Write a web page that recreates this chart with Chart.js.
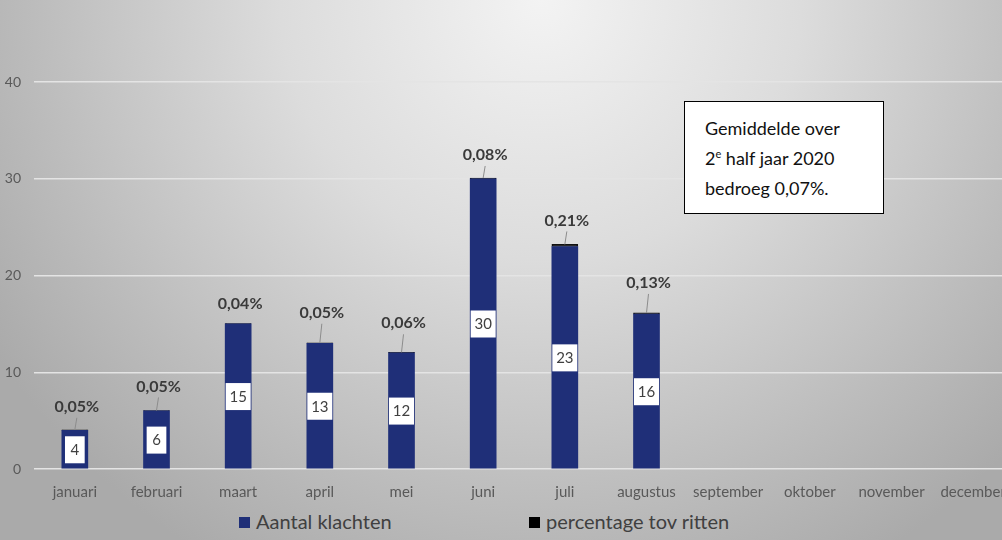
<!DOCTYPE html>
<html>
<head>
<meta charset="utf-8">
<script src="https://cdn.jsdelivr.net/npm/chart.js@4.4.1/dist/chart.umd.min.js"></script>
<style>
  html, body { margin: 0; padding: 0; overflow: hidden; }
  body {
    width: 1002px; height: 540px; position: relative;
    background: radial-gradient(ellipse 65% 120% at 54% 0%, #f3f3f3 0%, #dcdcdc 40%, #bcbcbc 78%, #aaaaaa 100%);
    font-family: Lato, "Open Sans", sans-serif;
  }
  #wrap { position: absolute; left: 0; top: 0; width: 1014px; height: 507px; }
  #note {
    position: absolute; left: 684px; top: 101px; width: 200px; height: 113px;
    box-sizing: border-box; background: #fff; border: 1px solid #000;
    padding: 11px 0 0 20px; font-size: 18px; line-height: 30px; color: #111;
  }
  #note sup { font-size: 11px; line-height: 0; vertical-align: 7px; }
  #legend { position: absolute; top: 509px; left: 0; width: 1002px; font-size: 20px; color: #404040; }
  #legend span.item { position: absolute; white-space: nowrap; }
  #legend i { display: inline-block; width: 11px; height: 11px; margin-right: 6px; vertical-align: 1px; }
</style>
</head>
<body>
<div id="wrap"><canvas id="myChart" width="1014" height="507"></canvas></div>
<div id="note">Gemiddelde over<br>2<sup>e</sup> half jaar 2020<br>bedroeg 0,07%.</div>
<div id="legend">
  <span class="item" style="left:239px"><i style="background:#1f2f78"></i>Aantal klachten</span>
  <span class="item" style="left:529px"><i style="background:#000"></i>percentage tov ritten</span>
</div>
<script>
var months = ['januari', 'februari', 'maart', 'april', 'mei', 'juni', 'juli', 'augustus', 'september', 'oktober', 'november', 'december'];
var klachten = [4, 6, 15, 13, 12, 30, 23, 16];
var percentage = [0.05, 0.05, 0.04, 0.05, 0.06, 0.08, 0.21, 0.13];
var yTicks = [0, 10, 20, 30, 40];
// distance (px) of the percentage label above the bar top
var labelLift = [23, 24, 20, 30, 29, 23, 24, 30];

var labelsPlugin = {
    id: 'barLabels',
    afterDatasetsDraw: function (chart) {
        var c = chart.ctx;
        var bars = chart.getDatasetMeta(0).data;
        var tops = chart.getDatasetMeta(1).data;
        c.save();
        bars.forEach(function (bar, i) {
            if (klachten[i] == null) return;
            // white value box in the middle of the bar
            var txt = String(klachten[i]);
            c.font = '15px Lato';
            var w = Math.min(bar.width - 1, c.measureText(txt).width + 11);
            var mid = (bar.y + bar.base) / 2;
            c.fillStyle = '#ffffff';
            c.fillRect(bar.x - w / 2, mid - 13, w, 27);
            c.fillStyle = '#404040';
            c.textAlign = 'center';
            c.textBaseline = 'middle';
            c.fillText(txt, bar.x, mid + 1);
            // percentage label with leader line
            var top = tops[i].y;
            var ly = top - labelLift[i];
            if (labelLift[i] > 21) {
                c.strokeStyle = '#8c8c8c';
                c.lineWidth = 1;
                c.beginPath();
                c.moveTo(bar.x, top);
                c.lineTo(bar.x + 2, ly + 11);
                c.stroke();
            }
            c.font = 'bold 16px Lato';
            c.fillStyle = '#3a3a3a';
            c.fillText(percentage[i].toFixed(2).replace('.', ',') + '%', bar.x + 2, ly);
        });
        c.restore();
    }
};

var ctx = document.getElementById('myChart').getContext('2d');
var myChart = new Chart(ctx, {
    type: 'bar',
    data: {
        labels: months,
        datasets: [{
            label: 'Aantal klachten',
            data: klachten,
            backgroundColor: '#1f2f78',
            borderWidth: 0,
            barThickness: 26
        }, {
            label: 'percentage tov ritten',
            data: percentage,
            backgroundColor: '#111111',
            borderColor: '#111111',
            borderWidth: 1,
            borderSkipped: false,
            barThickness: 26
        }]
    },
    options: {
        responsive: false,
        animation: false,
        layout: { padding: { left: 4, top: 82, right: 0, bottom: 0 } },
        plugins: {
            legend: { display: false },
            tooltip: { enabled: false }
        },
        scales: {
            x: {
                stacked: true,
                grid: { display: false },
                border: { display: false },
                ticks: { color: '#595959', font: { family: 'Lato', size: 15 }, padding: 6, maxRotation: 0, autoSkip: false }
            },
            y: {
                stacked: true,
                min: 0,
                max: 40,
                afterBuildTicks: function (axis) {
                    axis.ticks = yTicks.map(function (v) { return { value: v }; });
                },
                afterFit: function (axis) { axis.width = 30; },
                grid: { color: '#e4e4e4', lineWidth: 1.5, drawTicks: false },
                border: { display: false },
                ticks: { color: '#595959', font: { family: 'Lato', size: 14 }, padding: 13 }
            }
        }
    },
    plugins: [labelsPlugin]
});
</script>
</body>
</html>
